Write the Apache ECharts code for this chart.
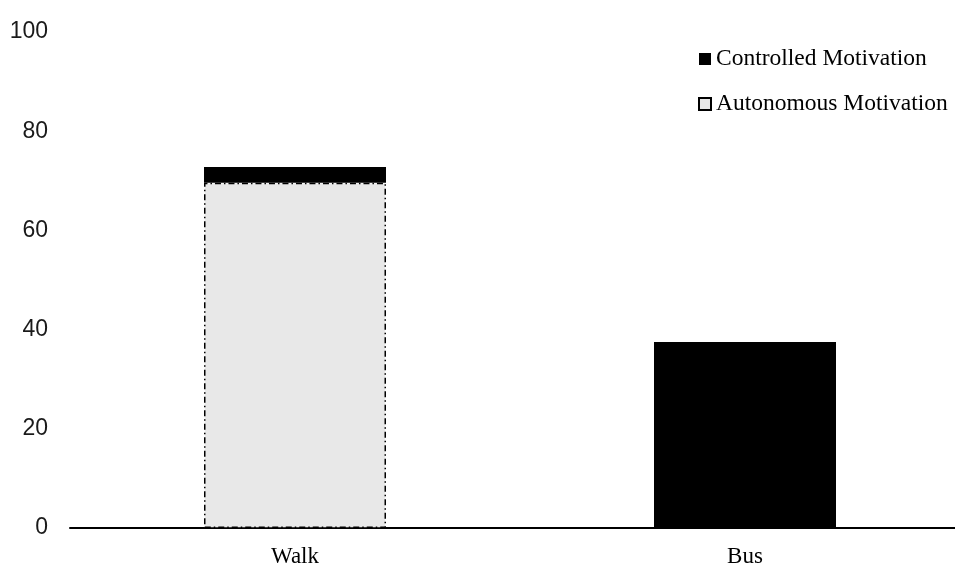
<!DOCTYPE html>
<html>
<head>
<meta charset="utf-8">
<script src="https://cdn.jsdelivr.net/npm/echarts@6/dist/echarts.min.js"></script>
<style>
  html, body { margin: 0; padding: 0; background: #ffffff; overflow: hidden; }
  #chart { width: 970px; height: 568px; }
</style>
</head>
<body>
<div id="chart"></div>
<script>
// Commute mode categories and motivation scores
const categories = ['Walk', 'Bus'];
const autonomousMotivation = [69.6, 0];
const controlledMotivation = [3.2, 37.5];
const yTicks = [0, 20, 40, 60, 80, 100];

const chart = echarts.init(document.getElementById('chart'), null, { renderer: 'canvas' });

const serif = '"Liberation Serif", "Times New Roman", serif';
const sans = '"Liberation Sans", Arial, sans-serif';

chart.setOption({
  backgroundColor: '#ffffff',
  animation: false,
  grid: { left: 70, top: 32, bottom: 40, right: 0, containLabel: false },
  legend: {
    orient: 'vertical',
    left: 693,
    top: 42,
    itemGap: 21,
    itemWidth: 12,
    itemHeight: 12,
    icon: 'rect',
    textStyle: { fontFamily: serif, fontSize: 23.5, color: '#000000', padding: [0, 0, 0, 0] },
    data: ['Controlled Motivation', 'Autonomous Motivation']
  },
  xAxis: {
    type: 'category',
    data: categories,
    axisLine: { show: true, lineStyle: { color: '#000000', width: 2 } },
    axisTick: { show: false },
    axisLabel: { fontFamily: serif, fontSize: 23, color: '#000000', margin: 17 }
  },
  yAxis: {
    type: 'value',
    min: yTicks[0],
    max: yTicks[yTicks.length - 1],
    interval: yTicks[1] - yTicks[0],
    axisLine: { show: false },
    axisTick: { show: false },
    splitLine: { show: false },
    axisLabel: { fontFamily: sans, fontSize: 23, color: '#1a1a1a', margin: 22 }
  },
  series: [
    {
      name: 'Autonomous Motivation',
      type: 'bar',
      stack: 'motivation',
      barWidth: 182,
      data: autonomousMotivation.map(v => (v === 0 ? '-' : v)),
      itemStyle: {
        color: '#e8e8e8',
        borderColor: '#000000',
        borderWidth: 1.5,
        borderType: [6, 3, 1.5, 3]
      }
    },
    {
      name: 'Controlled Motivation',
      type: 'bar',
      stack: 'motivation',
      barWidth: 182,
      data: controlledMotivation,
      itemStyle: { color: '#000000' }
    }
  ]
});
</script>
</body>
</html>
